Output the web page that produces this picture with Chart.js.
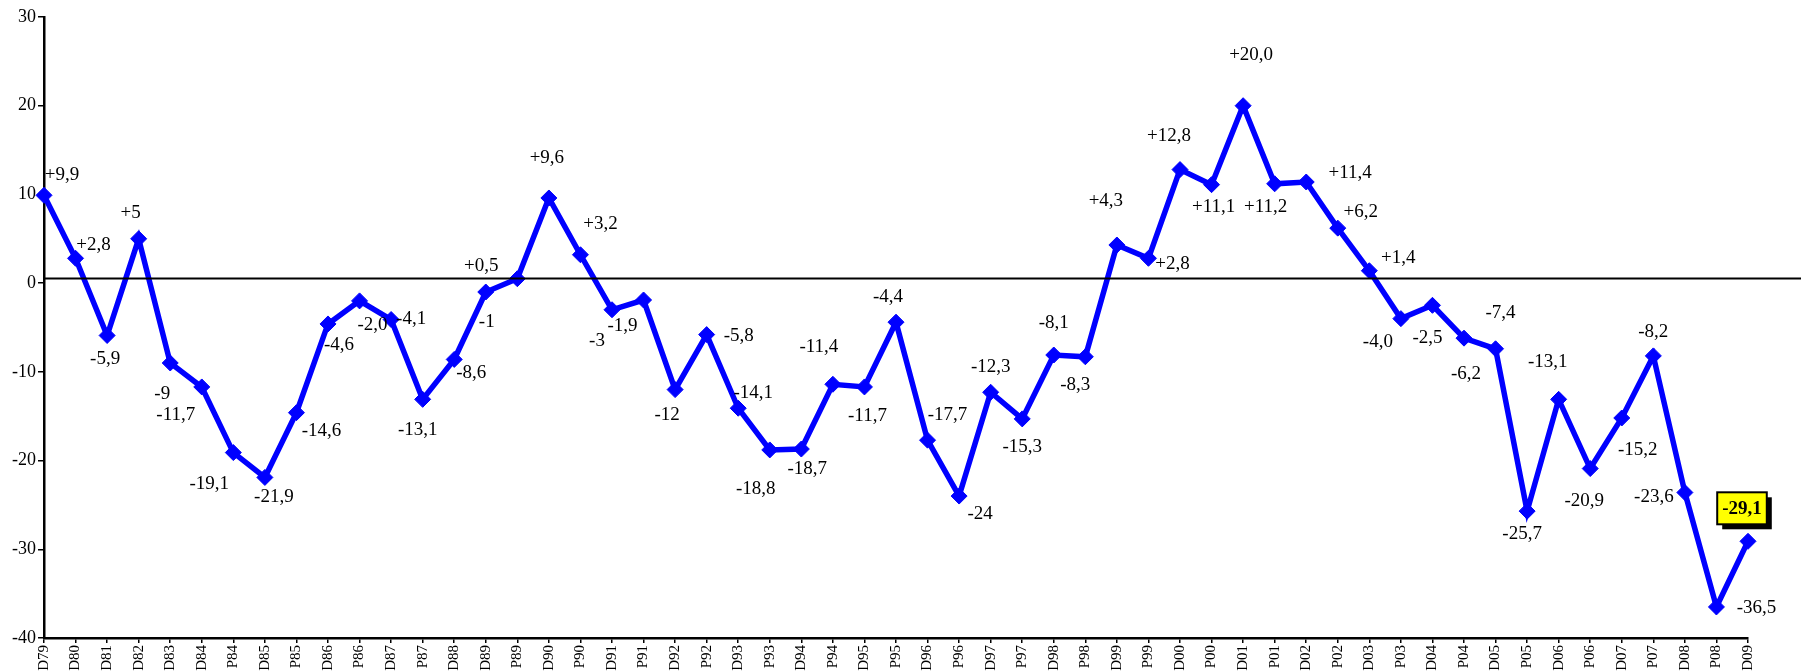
<!DOCTYPE html>
<html>
<head>
<meta charset="utf-8">
<script src="https://cdn.jsdelivr.net/npm/chart.js@4.4.0/dist/chart.umd.min.js"></script>
<style>
  body { margin: 0; background: #fff; }
  canvas { display: block; }
</style>
</head>
<body>
<canvas id="balanceChart" width="1801" height="671"></canvas>
<script>
// periods (D = December, P = intermediate survey)
const periods = ["D79", "D80", "D81", "D82", "D83", "D84", "P84", "D85", "P85", "D86", "P86", "D87", "P87", "D88",
    "D89", "P89", "D90", "P90", "D91", "P91", "D92", "P92", "D93", "P93", "D94", "P94", "D95", "P95", "D96", "P96",
    "D97", "P97", "D98", "P98", "D99", "P99", "D00", "P00", "D01", "P01", "D02", "P02", "D03", "P03", "D04", "P04",
    "D05", "P05", "D06", "P06", "D07", "P07", "D08", "P08", "D09"];

const balance = [9.9, 2.8, -5.9, 5, -9, -11.7, -19.1, -21.9, -14.6, -4.6, -2.0, -4.1, -13.1, -8.6,
    -1, 0.5, 9.6, 3.2, -3, -1.9, -12, -5.8, -14.1, -18.8, -18.7, -11.4, -11.7, -4.4, -17.7, -24,
    -12.3, -15.3, -8.1, -8.3, 4.3, 2.8, 12.8, 11.1, 20.0, 11.2, 11.4, 6.2, 1.4, -4.0, -2.5, -6.2,
    -7.4, -25.7, -13.1, -20.9, -15.2, -8.2, -23.6, -36.5, -29.1];

// value labels as printed on the chart
const valueLabels = ["+9,9", "+2,8", "-5,9", "+5", "-9", "-11,7", "-19,1", "-21,9", "-14,6", "-4,6", "-2,0", "-4,1", "-13,1", "-8,6",
    "-1", "+0,5", "+9,6", "+3,2", "-3", "-1,9", "-12", "-5,8", "-14,1", "-18,8", "-18,7", "-11,4", "-11,7", "-4,4", "-17,7", "-24",
    "-12,3", "-15,3", "-8,1", "-8,3", "+4,3", "+2,8", "+12,8", "+11,1", "+20,0", "+11,2", "+11,4", "+6,2", "+1,4", "-4,0", "-2,5", "-6,2",
    "-7,4", "-25,7", "-13,1", "-20,9", "-15,2", "-8,2", "-23,6", "-36,5", "-29,1"];

const yTicks = [-40, -30, -20, -10, 0, 10, 20, 30];
const refLine = 0.55;

// label placement relative to each marker (px)
const labelOffsets = [[18,-20],[18,-13],[-2,24],[-8,-26],[-8,31],[-26,28],[-24,31],[9,20],[25,18],[11,21],
    [13,24],[20,-1],[-5,31],[17,14],[1,30],[-36,-13],[-2,-40],[20,-31],[-15,31],[-21,26],
    [-8,25],[32,1],[15,-15],[-14,39],[6,20],[-14,-37],[3,29],[-8,-25],[20,-25],[21,18],
    [0,-25],[0,28],[0,-32],[-10,28],[-11,-44],[24,6],[-11,-34],[2,22],[8,-51],[-9,23],
    [44,-9],[23,-16],[29,-13],[-23,23],[-5,33],[2,36],[5,-36],[-5,23],[-11,-37],[-6,32],
    [16,32],[0,-24],[-31,5],[40,1],[-6,-33]];

const FONT = "'Liberation Serif', 'Times New Roman', serif";

const labelPlugin = {
    id: "valueLabels",
    afterDraw(chart) {
        const ctx = chart.ctx;
        const yScale = chart.scales.y;
        const area = chart.chartArea;
        // reference line slightly above zero, running to the edge
        const yRef = Math.round(yScale.getPixelForValue(refLine)) + 0.5;
        ctx.save();
        ctx.strokeStyle = "#000";
        ctx.lineWidth = 2;
        ctx.beginPath();
        ctx.moveTo(area.left, yRef);
        ctx.lineTo(chart.width, yRef);
        ctx.stroke();
        ctx.restore();

        const meta = chart.getDatasetMeta(0);
        const last = meta.data.length - 1;
        ctx.save();
        ctx.textAlign = "center";
        ctx.textBaseline = "middle";
        meta.data.forEach((pt, i) => {
            const x = pt.x + labelOffsets[i][0];
            const y = pt.y + labelOffsets[i][1];
            if (i === last) {
                ctx.font = "bold 19px " + FONT;
                const w = ctx.measureText(valueLabels[i]).width + 10;
                const h = 32;
                ctx.fillStyle = "#000";
                ctx.fillRect(x - w / 2 + 5, y - h / 2 + 5, w, h);
                ctx.fillStyle = "#ffff00";
                ctx.fillRect(x - w / 2, y - h / 2, w, h);
                ctx.strokeStyle = "#000";
                ctx.lineWidth = 2;
                ctx.strokeRect(x - w / 2, y - h / 2, w, h);
                ctx.fillStyle = "#000";
                ctx.fillText(valueLabels[i], x, y + 1);
            } else {
                ctx.font = "19px " + FONT;
                ctx.fillStyle = "#000";
                ctx.fillText(valueLabels[i], x, y);
            }
        });
        ctx.restore();
    }
};

const ctx = document.getElementById("balanceChart").getContext("2d");
const chart = new Chart(ctx, {
    type: "line",
    data: {
        labels: periods,
        datasets: [{
            data: balance,
            borderColor: "#0000ff",
            backgroundColor: "#0000ff",
            borderWidth: 5.5,
            pointStyle: "rectRot",
            pointRadius: 8,
            pointHoverRadius: 8,
            pointBorderWidth: 1,
            tension: 0
        }]
    },
    options: {
        responsive: false,
        animation: false,
        devicePixelRatio: 1,
        layout: { padding: { top: 17, right: 53, left: 0, bottom: 0 } },
        plugins: { legend: { display: false }, tooltip: { enabled: false } },
        scales: {
            x: {
                type: "category",
                offset: false,
                afterFit(scale) { scale.height = 33; },
                grid: { display: true, drawOnChartArea: false, drawTicks: true, tickLength: 5, color: "#000", lineWidth: 1.5 },
                border: { display: true, color: "#000", width: 2.5 },
                ticks: { autoSkip: false, maxRotation: 90, minRotation: 90, padding: 2, color: "#000",
                    font: { family: FONT, size: 15 } }
            },
            y: {
                min: -40,
                max: 30,
                afterFit(scale) { scale.width = 44; },
                afterBuildTicks(scale) { scale.ticks = yTicks.map(v => ({ value: v })); },
                grid: { display: true, drawOnChartArea: false, drawTicks: true, tickLength: 6, color: "#000", lineWidth: 1.5 },
                border: { display: true, color: "#000", width: 2.5 },
                ticks: { padding: 2, color: "#000", font: { family: FONT, size: 18 } }
            }
        }
    },
    plugins: [labelPlugin]
});
</script>
</body>
</html>
